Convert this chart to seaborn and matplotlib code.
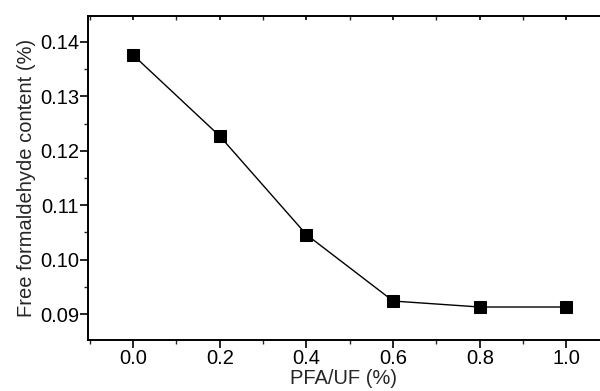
import numpy as np
import pandas as pd
import matplotlib
matplotlib.use("Agg")
import matplotlib.pyplot as plt
import seaborn as sns
from matplotlib.ticker import MultipleLocator

pfa_uf = [0.0, 0.2, 0.4, 0.6, 0.8, 1.0]
free_hcho = [0.1376, 0.1227, 0.1046, 0.0924, 0.0913, 0.0913]

sns.set_style("ticks")
plt.rcParams["font.family"] = ["Liberation Sans", "DejaVu Sans"]

df = pd.DataFrame({"PFA/UF (%)": pfa_uf, "Free formaldehyde content (%)": free_hcho})

fig = plt.figure(figsize=(6.0, 3.91), dpi=100)
ax = fig.add_axes([88 / 600, 1 - 340 / 391, 511 / 600, 324 / 391])

sns.lineplot(data=df, x="PFA/UF (%)", y="Free formaldehyde content (%)", ax=ax,
             color="black", linewidth=1.0, marker="s", markersize=8.5,
             markeredgecolor="black", markerfacecolor="black")

ax.set_xlim(-0.104, 1.075)
ax.set_ylim(0.08524, 0.14476)

ax.xaxis.set_major_locator(MultipleLocator(0.2))
ax.xaxis.set_minor_locator(MultipleLocator(0.1))
ax.yaxis.set_major_locator(MultipleLocator(0.01))
ax.yaxis.set_minor_locator(MultipleLocator(0.005))
ax.xaxis.set_major_formatter(plt.FuncFormatter(lambda v, p: f"{v:.1f}"))
ax.yaxis.set_major_formatter(plt.FuncFormatter(lambda v, p: f"{v:.2f}"))

ax.tick_params(axis="both", which="major", direction="out", length=5.5, width=1.2,
               labelsize=14.5, colors="black", pad=1)
ax.tick_params(axis="both", which="minor", direction="out", length=3, width=1.0)
ax.tick_params(axis="x", which="both", top=True)

for s in ["left", "bottom", "top"]:
    ax.spines[s].set_linewidth(1.4)
    ax.spines[s].set_color("black")
ax.spines["right"].set_visible(False)

# top ticks point inward
for t in ax.xaxis.get_major_ticks() + ax.xaxis.get_minor_ticks():
    t.tick2line.set_marker(3)
    t.tick2line.set_markersize(3)

ax.set_xlabel("PFA/UF (%)", fontsize=14.5, labelpad=1)
ax.set_ylabel("Free formaldehyde content (%)", fontsize=14.5, labelpad=3)

fig.savefig("out.png", dpi=100)
